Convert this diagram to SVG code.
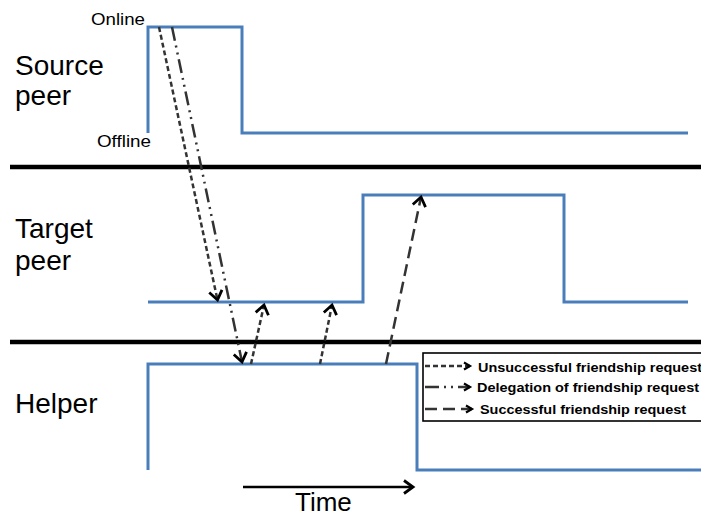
<svg xmlns="http://www.w3.org/2000/svg" width="701" height="517" viewBox="0 0 701 517">
<style>
.lbl{font-family:"Liberation Sans",Arial,sans-serif;font-size:28px;fill:#000}
.sm{font-family:"Liberation Sans",Arial,sans-serif;font-size:16.5px;fill:#000}
.leg{font-family:"Liberation Sans",Arial,sans-serif;font-size:12.5px;font-weight:bold;fill:#000}
.sig{fill:none;stroke:#4a7ebb;stroke-width:3}
.sep{stroke:#000;stroke-width:4.5}
.a{fill:none;stroke:#333;stroke-width:2.5}
.un{stroke-dasharray:5,3}
.de{stroke-dasharray:14,5,2,5,2,5}
.su{stroke-dasharray:12,6}
</style>
<defs>
<marker id="chev" markerUnits="userSpaceOnUse" markerWidth="24" markerHeight="24" refX="0" refY="0" orient="auto" viewBox="-14 -12 24 24" overflow="visible">
<path d="M-9,-6.5 L0,0 L-9,6.5" fill="none" stroke="#000" stroke-width="2.8" stroke-linejoin="miter"/>
</marker>
<marker id="lh" markerUnits="userSpaceOnUse" markerWidth="12" markerHeight="12" refX="0" refY="0" orient="auto" viewBox="-8 -6 12 12" overflow="visible">
<path d="M-6,-3.5 L0,0 L-6,3.5" fill="none" stroke="#000" stroke-width="2.2"/>
</marker>
</defs>
<rect width="701" height="517" fill="#fff"/>
<g id="labels">
<text class="lbl" x="15" y="75">Source</text>
<text class="lbl" x="15" y="105">peer</text>
<text class="lbl" x="15" y="238">Target</text>
<text class="lbl" x="15" y="270">peer</text>
<text class="lbl" x="15" y="413">Helper</text>
<text class="sm" x="91" y="25" textLength="54" lengthAdjust="spacingAndGlyphs">Online</text>
<text class="sm" x="97" y="147" textLength="54" lengthAdjust="spacingAndGlyphs">Offline</text>
</g>
<g id="separators">
<line class="sep" x1="10" y1="167" x2="701" y2="167"/>
<line class="sep" x1="10" y1="342" x2="701" y2="342"/>
</g>
<g id="source-peer"><path class="sig" d="M148,133 V27 H242 V133 H688"/></g>
<g id="target-peer"><path class="sig" d="M148,302 H363 V195 H564 V302 H688"/></g>
<g id="helper"><path class="sig" d="M148,470 V364 H417 V470 H701"/></g>
<g id="connectors">
<line class="a un" x1="159" y1="27" x2="217.5" y2="300" marker-end="url(#chev)"/>
<line class="a de" x1="172" y1="27" x2="242" y2="362" marker-end="url(#chev)"/>
<line class="a un" x1="251" y1="364" x2="264" y2="305" marker-end="url(#chev)"/>
<line class="a un" x1="320" y1="364" x2="332" y2="305" marker-end="url(#chev)"/>
<line class="a su" x1="386" y1="364" x2="421" y2="197" marker-end="url(#chev)"/>
</g>
<g id="legend">
<rect x="423" y="353" width="290" height="68" fill="#fff" stroke="#000" stroke-width="1.6"/>
<line class="a un" x1="425" y1="366" x2="470" y2="366" stroke-width="1.5" marker-end="url(#lh)"/>
<line class="a de" x1="425" y1="387" x2="470" y2="387" stroke-width="1.8" marker-end="url(#lh)"/>
<line class="a su" x1="425" y1="409" x2="472" y2="409" stroke-width="1.8" stroke-dasharray="13,9" marker-end="url(#lh)"/>
<text class="leg" x="478" y="372" textLength="224" lengthAdjust="spacingAndGlyphs">Unsuccessful friendship request</text>
<text class="leg" x="477" y="392" textLength="222" lengthAdjust="spacingAndGlyphs">Delegation of friendship request</text>
<text class="leg" x="480" y="414" textLength="206" lengthAdjust="spacingAndGlyphs">Successful friendship request</text>
</g>
<g id="time">
<line x1="243" y1="487" x2="413" y2="487" stroke="#000" stroke-width="2.4" marker-end="url(#chev)"/>
<text class="lbl" x="295" y="511" style="font-size:26px">Time</text>
</g>
</svg>
